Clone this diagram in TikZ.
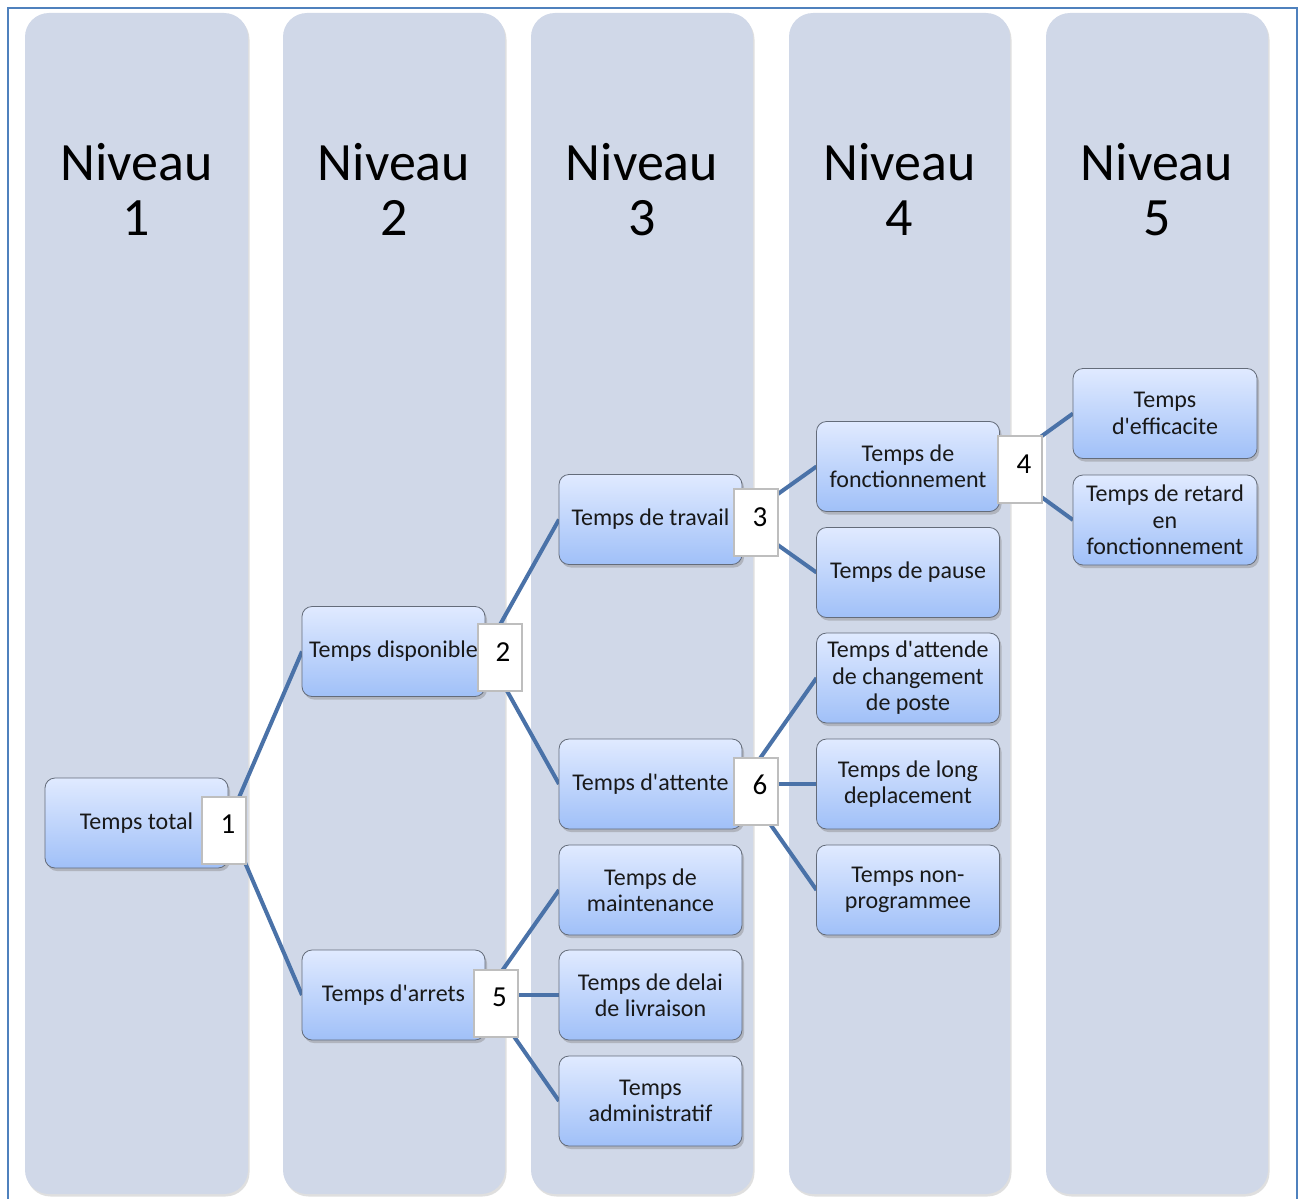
\documentclass[tikz,border=0pt]{standalone}
\usepackage{fontspec}
\setmainfont{Carlito}[Ligatures=TeXOff]
\usetikzlibrary{shadows}
\definecolor{colbg}{RGB}{208,216,232}
\definecolor{frameblue}{RGB}{79,129,189}
\definecolor{linkblue}{RGB}{74,114,168}
\definecolor{nodetop}{RGB}{224,234,255}
\definecolor{nodebot}{RGB}{160,192,248}
\definecolor{nodeborder}{RGB}{100,108,122}
\definecolor{numborder}{RGB}{190,190,190}
\definecolor{txt}{RGB}{25,25,25}
\begin{document}
\begin{tikzpicture}[x=1pt,y=-1pt,
  column/.style={fill=colbg, rounded corners=24pt,
    drop shadow={shadow xshift=1.5pt, shadow yshift=-2.5pt, opacity=0.25}},
  levelword/.style={anchor=base, font=\fontsize{54}{56}\selectfont, text=black, inner sep=0pt},
  boxnode/.style={draw=nodeborder, line width=0.8pt, rounded corners=10pt,
    top color=nodetop, bottom color=nodebot,
    minimum width=183pt, minimum height=90pt, inner sep=0pt, align=center,
    font=\fontsize{24}{26.5}\selectfont, text=txt,
    drop shadow={shadow xshift=2pt, shadow yshift=-3pt, opacity=0.4}},
  numbox/.style={draw=numborder, line width=2pt, fill=white,
    minimum width=44pt, minimum height=67pt, inner sep=0pt},
  numtext/.style={font=\fontsize{29}{31}\selectfont, text=black, inner sep=0pt},
  link/.style={draw=linkblue, line width=4pt}
]
\useasboundingbox (0,0) rectangle (1304,1199);
\fill[white] (0,0) rectangle (1304,1199);
% frame
\draw[frameblue, line width=2pt] (8,1215) -- (8,8) -- (1297,8) -- (1297,1215);
% columns
\path[column] (25,13) rectangle (248,1194);
\path[column] (283,13) rectangle (505,1194);
\path[column] (531,13) rectangle (753,1194);
\path[column] (789,13) rectangle (1010,1194);
\path[column] (1046,13) rectangle (1268,1194);
% level titles
\node[levelword] (n1a) at (136.5,180) {Niveau};
\node[levelword] (n1b) at (136.5,235) {1};
\node[levelword] (n2a) at (394,180) {Niveau};
\node[levelword] (n2b) at (394,235) {2};
\node[levelword] (n3a) at (642,180) {Niveau};
\node[levelword] (n3b) at (642,235) {3};
\node[levelword] (n4a) at (899.5,180) {Niveau};
\node[levelword] (n4b) at (899.5,235) {4};
\node[levelword] (n5a) at (1157,180) {Niveau};
\node[levelword] (n5b) at (1157,235) {5};
% coordinates of nodes (defined first so links go behind)
\coordinate (ctt) at (136.5,823);
\coordinate (ctd) at (393.5,651.5);
\coordinate (cta) at (393.5,995);
\coordinate (ctw) at (650.5,519.5);
\coordinate (ctat) at (650.5,784);
\coordinate (ctm) at (650.5,890);
\coordinate (ctl) at (650.5,995);
\coordinate (ctad) at (650.5,1101);
\coordinate (ctf) at (908,466.5);
\coordinate (ctp) at (908,572.5);
\coordinate (ctc) at (908,678);
\coordinate (ctld) at (908,784);
\coordinate (ctn) at (908,890);
\coordinate (cte) at (1165,413.5);
\coordinate (ctr) at (1165,520);
% links (parent east to child west)
\path[link] ([xshift=91.5pt]ctt) -- ([xshift=-91.5pt]ctd);
\path[link] ([xshift=91.5pt]ctt) -- ([xshift=-91.5pt]cta);
\path[link] ([xshift=91.5pt]ctd) -- ([xshift=-91.5pt]ctw);
\path[link] ([xshift=91.5pt]ctd) -- ([xshift=-91.5pt]ctat);
\path[link] ([xshift=91.5pt]cta) -- ([xshift=-91.5pt]ctm);
\path[link] ([xshift=91.5pt]cta) -- ([xshift=-91.5pt]ctl);
\path[link] ([xshift=91.5pt]cta) -- ([xshift=-91.5pt]ctad);
\path[link] ([xshift=91.5pt]ctw) -- ([xshift=-91.5pt]ctf);
\path[link] ([xshift=91.5pt]ctw) -- ([xshift=-91.5pt]ctp);
\path[link] ([xshift=91.5pt]ctat) -- ([xshift=-91.5pt]ctc);
\path[link] ([xshift=91.5pt]ctat) -- ([xshift=-91.5pt]ctld);
\path[link] ([xshift=91.5pt]ctat) -- ([xshift=-91.5pt]ctn);
\path[link] ([xshift=91.5pt]ctf) -- ([xshift=-92pt]cte);
\path[link] ([xshift=91.5pt]ctf) -- ([xshift=-92pt]ctr);
% nodes
\node[boxnode] (tt) at (ctt) {Temps total};
\node[boxnode] (td) at (ctd) {Temps disponible};
\node[boxnode] (ta) at (cta) {Temps d'arrets};
\node[boxnode] (tw) at (ctw) {Temps de travail};
\node[boxnode] (tat) at (ctat) {Temps d'attente};
\node[boxnode] (tm) at (ctm) {Temps de\\maintenance};
\node[boxnode] (tl) at (ctl) {Temps de delai\\de livraison};
\node[boxnode] (tad) at (ctad) {Temps\\administratif};
\node[boxnode] (tf) at (ctf) {Temps de\\fonctionnement};
\node[boxnode] (tp) at (ctp) {Temps de pause};
\node[boxnode] (tc) at (ctc) {Temps d'attende\\de changement\\de poste};
\node[boxnode] (tld) at (ctld) {Temps de long\\deplacement};
\node[boxnode] (tn) at (ctn) {Temps non-\\programmee};
\node[boxnode, minimum width=184pt] (te) at (cte) {Temps\\d'efficacite};
\node[boxnode, minimum width=184pt] (tr) at (ctr) {Temps de retard\\en\\fonctionnement};
% number boxes
\node[numbox] (b1) at (224,830) {};
\node[numtext] (d1) at (228,824) {1};
\node[numbox] (b2) at (499.5,657.5) {};
\node[numtext] (d2) at (503,652) {2};
\node[numbox] (b3) at (756,522.5) {};
\node[numtext] (d3) at (760,517) {3};
\node[numbox] (b4) at (1020,469.5) {};
\node[numtext] (d4) at (1024,464) {4};
\node[numbox] (b5) at (495.5,1003) {};
\node[numtext] (d5) at (499.5,997) {5};
\node[numbox] (b6) at (756,791) {};
\node[numtext] (d6) at (760,785) {6};
\end{tikzpicture}
\end{document}
